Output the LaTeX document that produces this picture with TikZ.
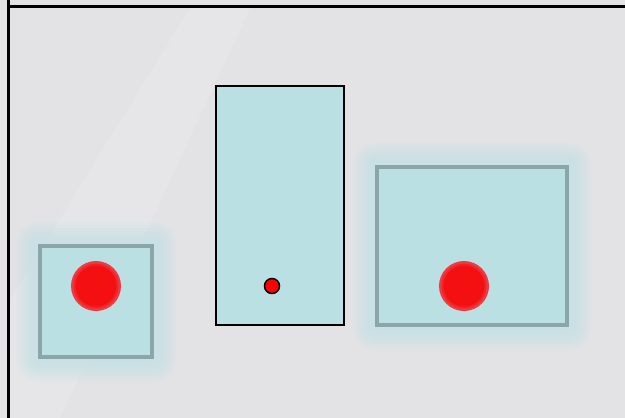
\documentclass[tikz,border=0pt]{standalone}
\usetikzlibrary{positioning,backgrounds}

\definecolor{bgcol}{HTML}{E3E3E6}
\definecolor{boxfill}{HTML}{BBE0E3}
\definecolor{boxedge}{HTML}{8AA6A8}
\definecolor{glowcol}{HTML}{BFE0E4}
\definecolor{dotred}{HTML}{F41010}
\definecolor{dotring}{HTML}{EE3A42}

\begin{document}
\begin{tikzpicture}[
    x=1pt, y=-1pt,
    softbox/.style={draw=boxedge, fill=boxfill, line width=4pt, inner sep=0pt},
    hardbox/.style={draw=black, fill=boxfill, line width=2pt, inner sep=0pt},
    bigdot/.style={circle, fill=dotring, inner sep=0pt, minimum size=50pt},
    smalldot/.style={circle, draw=black, fill=red, line width=1.5pt, inner sep=0pt, minimum size=15pt},
    frameline/.style={line width=3pt, black}
  ]
    \useasboundingbox (0,0) rectangle (625,418);

    % boxes
    \node[softbox, minimum width=112pt, minimum height=111pt] (leftbox) at (96,301.5) {};
    \node[hardbox, minimum width=128pt, minimum height=239pt] (midbox) at (280,205.5) {};
    \node[softbox, minimum width=190pt, minimum height=158pt] (rightbox) at (472,246) {};

    % dots
    \node[bigdot] (leftdot) at (96,286) {};
    \fill[dotred, opacity=0.5] (leftdot) circle (22.5);
    \fill[dotred] (leftdot) circle (20.5);
    \node[smalldot] (middot) at (272,286) {};
    \node[bigdot] (rightdot) at (464,286) {};
    \fill[dotred, opacity=0.5] (rightdot) circle (22.5);
    \fill[dotred] (rightdot) circle (20.5);

    \begin{pgfonlayer}{background}
      \fill[bgcol] (0,0) rectangle (625,418);
      \fill[white, opacity=0.12] (10,300) -- (190,8) -- (250,8) -- (60,418) -- (10,418) -- cycle;
      \foreach \g in {22,19,...,4} {
        \fill[glowcol, opacity=0.14, rounded corners=\g] ([shift={(-\g,-\g)}]leftbox.north west) rectangle ([shift={(\g,\g)}]leftbox.south east);
        \fill[glowcol, opacity=0.14, rounded corners=\g] ([shift={(-\g,-\g)}]rightbox.north west) rectangle ([shift={(\g,\g)}]rightbox.south east);
      }
    \end{pgfonlayer}

    % frame
    \draw[frameline] (8,0) -- (8,418);
    \draw[frameline] (8,6) -- (625,6);
\end{tikzpicture}
\end{document}
